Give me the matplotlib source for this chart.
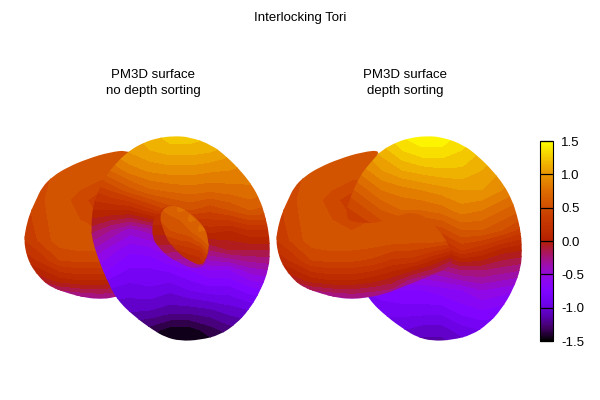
"""
Interlocking tori, redrawn from values read off the picture.
Each visible sheet is a small grid of colour values plus an outline read in pixels of its panel.
"""

import matplotlib
matplotlib.use("Agg")
import matplotlib.pyplot as plt
from matplotlib.colors import LinearSegmentedColormap, Normalize
from matplotlib.cm import ScalarMappable
from matplotlib.patches import PathPatch
from matplotlib.path import Path

# values:
#//>>
flat_x = [20, 40, 60, 80, 100, 120, 140, 160, 180, 200]
flat_y = [140, 160, 180, 200, 220, 240, 260, 280, 300]
flat_z = [
    [.40, .45, .50, .52, .52, .52, .52, .52, .52, .52],
    [.35, .45, .52, .55, .55, .55, .55, .55, .55, .55],
    [.32, .45, .55, .56, .50, .50, .52, .55, .55, .55],
    [.32, .48, .56, .44, .33, .42, .50, .55, .55, .55],
    [.30, .46, .56, .50, .40, .50, .55, .56, .57, .55],
    [.26, .42, .56, .58, .58, .57, .55, .54, .55, .50],
    [.10, .22, .40, .43, .42, .38, .28, .26, .10, -.10],
    [-.20, -.08, .05, .10, .10, .04, -.05, -.25, -.35, -.40],
    [-.60, -.50, -.45, -.40, -.35, -.38, -.40, -.45, -.50, -.50],
]
flat_arc = [(130, 150), (110, 152), (87, 159), (68, 167), (53, 176), (42, 187), (36, 200), (30, 213),
            (26, 227), (24, 240), (26, 253), (30, 264), (36, 273), (44, 282), (53, 288), (70, 294),
            (87, 298), (100, 299), (113, 298)]
flat_close_unsorted = [(160, 285), (170, 220), (160, 170)]
flat_close_sorted = [(133, 294), (153, 286), (173, 278), (190, 271), (198, 266), (201, 257), (193, 237),
                     (176, 218), (160, 212), (145, 216), (126, 223), (110, 223), (97, 221), (94, 214),
                     (96, 203), (107, 177), (118, 163)]

ring_x = [90, 110, 130, 150, 170, 190, 210, 230, 250, 270]
ring_y = [130, 150, 170, 190, 210, 230, 250, 270, 290, 310, 330, 350]
ring_z_unsorted = [
    [.90, 1.0, 1.1, 1.2, 1.3, 1.3, 1.25, 1.2, 1.1, 1.0],
    [.85, .92, 1.02, 1.1, 1.15, 1.15, 1.12, 1.05, 1.0, .95],
    [.55, .70, .85, .92, .95, .95, .92, .90, .85, .80],
    [.30, .40, .55, .68, .72, .75, .72, .75, .78, .72],
    [.10, .10, .10, .25, .42, .50, .42, .50, .60, .55],
    [-.15, -.30, -.45, -.35, -.20, .00, .15, .10, .20, .20],
    [-.40, -.55, -.68, -.65, -.50, -.40, -.20, -.10, -.10, -.10],
    [-.60, -.72, -.82, -.82, -.78, -.70, -.60, -.60, -.45, -.40],
    [-.90, -.92, -.95, -.92, -.98, -.90, -.85, -.85, -.75, -.70],
    [-1.1, -1.1, -1.08, -1.1, -1.15, -1.15, -1.12, -1.05, -1.0, -.95],
    [-1.3, -1.3, -1.3, -1.35, -1.45, -1.45, -1.35, -1.25, -1.2, -1.1],
    [-1.5, -1.5, -1.5, -1.5, -1.5, -1.5, -1.5, -1.4, -1.3, -1.2],
]
ring_z_sorted = [
    [1.0, 1.1, 1.3, 1.45, 1.5, 1.5, 1.4, 1.3, 1.2, 1.1],
    [.90, 1.0, 1.15, 1.3, 1.38, 1.38, 1.3, 1.2, 1.1, 1.0],
    [.70, .85, 1.0, 1.1, 1.15, 1.18, 1.18, 1.1, 1.0, .90],
    [.50, .65, .80, .85, .90, .95, 1.0, 1.0, .90, .80],
    [.35, .45, .60, .70, .70, .75, .85, .80, .70, .60],
    [.20, .30, .40, .40, .40, .45, .60, .60, .50, .35],
    [.00, .00, .00, .00, .00, .10, .30, .20, .05, .00],
    [-.40, -.40, -.40, -.35, -.35, -.30, -.20, -.20, -.25, -.30],
    [-.80, -.80, -.75, -.70, -.70, -.65, -.60, -.50, -.55, -.60],
    [-1.0, -.95, -.85, -.85, -.85, -.85, -.75, -.70, -.75, -.80],
    [-1.2, -1.1, -1.0, -1.0, -1.05, -1.05, -.95, -.90, -.90, -.90],
    [-1.3, -1.2, -1.15, -1.15, -1.2, -1.2, -1.1, -1.0, -1.0, -1.0],
]
ring_outline = [(145, 142), (158, 138), (173, 136), (190, 137), (212, 145), (227, 157), (240, 170),
                (252, 185), (260, 200), (265, 215), (269, 233), (270, 250), (269, 268), (261, 290),
                (249, 310), (236, 324), (220, 335), (200, 340), (180, 341), (165, 337), (153, 330),
                (135, 317), (117, 300), (106, 278), (98, 258), (93, 242), (91, 230), (93, 203),
                (105, 177), (116, 163), (130, 150)]

rim_x = [150, 170, 190, 210]
rim_y = [200, 220, 240, 260, 280]
rim_z = [
    [.30, .30, .30, .30],
    [.15, .15, .20, .20],
    [-.05, -.05, .00, .05],
    [-.25, -.30, -.35, -.20],
    [-.40, -.45, -.45, -.40],
]
rim_outline = [(170, 205), (161, 209), (154, 218), (152, 228), (153, 238), (156, 244), (164, 253),
               (172, 259), (180, 263), (188, 267), (195, 268), (203, 267), (207, 259), (209, 248),
               (208, 240), (206, 230), (199, 221), (189, 212), (180, 207)]

lens_x = [150, 160, 170, 180, 190, 200, 210]
lens_y = [200, 210, 220, 230, 240, 250, 260, 270]
lens_z = [
    [.60, .60, .65, .70, .70, .70, .70],
    [.55, .58, .65, .72, .68, .65, .65],
    [.50, .50, .55, .60, .72, .68, .65],
    [.40, .42, .50, .55, .60, .72, .68],
    [.30, .30, .35, .40, .42, .55, .70],
    [.15, .15, .20, .20, .25, .30, .55],
    [.00, .00, .05, .10, .12, .15, .35],
    [-.10, -.10, -.05, .00, .05, .10, .30],
]
lens_outline = [(170, 205), (162, 210), (160, 218), (162, 226), (165, 234), (168, 241), (175, 249),
                (182, 256), (190, 261), (201, 266), (206, 259), (209, 248), (208, 240), (206, 230),
                (199, 221), (189, 212), (180, 207)]

cbar_ticks = [-1.5, -1.0, -0.5, 0.0, 0.5, 1.0, 1.5]
palette = [(0, 0, 0), (.25, 0, .383), (.354, .002, .707), (.433, .007, .924), (.5, .016, 1),
           (.559, .031, .924), (.612, .053, .707), (.661, .084, .383), (.707, .125, 0),
           (.791, .244, 0), (.866, .422, 0), (.935, .67, 0), (1, 1, 0)]
palette_pos = [0, .0625, .125, .1875, .25, .3125, .375, .4375, .5, .625, .75, .875, 1]
#//<<

plt.rcParams["font.family"] = "Liberation Sans"
plt.rcParams["axes.unicode_minus"] = False

cmap = LinearSegmentedColormap.from_list("pm3d", list(zip(palette_pos, palette)), N=256)
levels = [-1.5 + 0.1 * i for i in range(31)]


def rounded_path(outline):
    # the read points act as curve controls, so the clip has no corners
    mids = [((a[0] + b[0]) / 2, (a[1] + b[1]) / 2) for a, b in zip(outline, outline[1:] + outline[:1])]
    verts = [mids[-1]]
    codes = [Path.MOVETO]
    for point, mid in zip(outline, mids):
        verts += [point, mid]
        codes += [Path.CURVE3, Path.CURVE3]
    return Path(verts, codes, closed=False)


def draw_sheet(ax, xs, ys, zs, outline):
    clip = PathPatch(rounded_path(outline), transform=ax.transData)
    cs = ax.contourf(xs, ys, zs, levels=levels, cmap=cmap, vmin=-1.5, vmax=1.5)
    cs.set_clip_path(clip)


def panel_axes(fig, left):
    ax = fig.add_axes([left / 600, 0, 270 / 600, 1])
    ax.set_xlim(0, 270)
    ax.set_ylim(400, 0)
    ax.axis("off")
    return ax


fig = plt.figure(figsize=(6, 4), dpi=100)

ax_left = panel_axes(fig, 0)
draw_sheet(ax_left, flat_x, flat_y, flat_z, flat_arc + flat_close_unsorted)
draw_sheet(ax_left, ring_x, ring_y, ring_z_unsorted, ring_outline)
draw_sheet(ax_left, rim_x, rim_y, rim_z, rim_outline)
draw_sheet(ax_left, lens_x, lens_y, lens_z, lens_outline)

ax_right = panel_axes(fig, 252)
draw_sheet(ax_right, ring_x, ring_y, ring_z_sorted, ring_outline)
draw_sheet(ax_right, flat_x, flat_y, flat_z, flat_arc + flat_close_sorted)

fig.text(0.5, 1 - 18 / 400, "Interlocking Tori", ha="center", va="center", fontsize=9.5)
fig.text(153 / 600, 1 - 83 / 400, "PM3D surface\nno depth sorting", ha="center", va="center",
         fontsize=9.5, linespacing=1.4)
fig.text(405 / 600, 1 - 83 / 400, "PM3D surface\ndepth sorting", ha="center", va="center",
         fontsize=9.5, linespacing=1.4)

cax = fig.add_axes([540 / 600, 1 - 341 / 400, 13 / 600, 200 / 400])
cbar = fig.colorbar(ScalarMappable(norm=Normalize(-1.5, 1.5), cmap=cmap), cax=cax, ticks=cbar_ticks)
cbar.ax.set_yticklabels([f"{t:.1f}" for t in cbar_ticks])
cbar.ax.tick_params(left=True, right=True, direction="in", length=9.4, width=0.8, labelsize=9.5, pad=6)
cbar.outline.set_linewidth(0.8)

fig.savefig("out.png", dpi=100)
